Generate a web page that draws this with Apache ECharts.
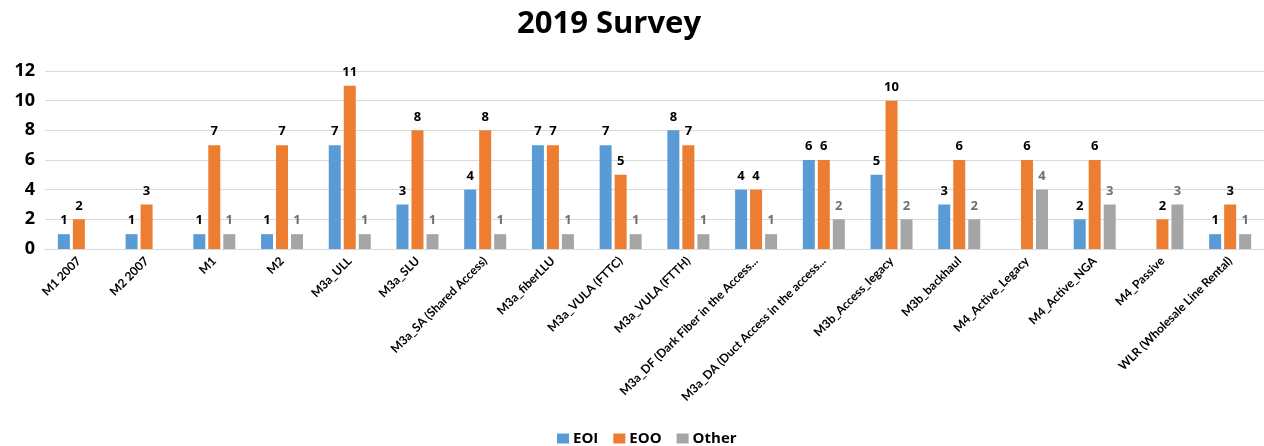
<!DOCTYPE html>
<html>
<head>
<meta charset="utf-8">
<script src="https://cdn.jsdelivr.net/npm/echarts@6/dist/echarts.min.js"></script>
<style>
  html, body { margin: 0; padding: 0; background: #fff; }
  #chart { width: 1264px; height: 446px; }
</style>
</head>
<body>
<div id="chart"></div>
<script>
// Survey categories (x axis)
const categories = [
  'M1 2007', 'M2 2007', 'M1', 'M2', 'M3a_ULL', 'M3a_SLU',
  'M3a_SA (Shared Access)', 'M3a_fiberLLU', 'M3a_VULA (FTTC)', 'M3a_VULA (FTTH)',
  'M3a_DF (Dark Fiber in the Access...', 'M3a_DA (Duct Access in the access...',
  'M3b_Access_legacy', 'M3b_backhaul', 'M4_Active_Legacy', 'M4_Active_NGA',
  'M4_Passive', 'WLR (Wholesale Line Rental)'
];

// Number of responses per respondent group (null = no response)
const eoi   = [1, 1, 1, 1, 7, 3, 4, 7, 7, 8, 4, 6, 5, 3, null, 2, null, 1];
const eoo   = [2, 3, 7, 7, 11, 8, 8, 7, 5, 7, 4, 6, 10, 6, 6, 6, 2, 3];
const other = [null, null, 1, 1, 1, 1, 1, 1, 1, 1, 1, 2, 2, 2, 4, 3, 3, 1];

// Y axis scale
const yMin = 0, yMax = 12, yStep = 2;

const FONT = '"Open Sans", "Noto Sans", sans-serif';
const NARROW = 'Lato, "Open Sans", sans-serif';

function barSeries(name, data, color, labelColor) {
  return {
    name: name,
    type: 'bar',
    data: data,
    barWidth: 12,
    barGap: '25%',
    itemStyle: { color: color },
    label: {
      show: true,
      position: 'top',
      distance: 7,
      color: labelColor,
      fontFamily: FONT,
      fontWeight: 'bold',
      fontSize: 13
    }
  };
}

const chart = echarts.init(document.getElementById('chart'), null, { renderer: 'canvas' });
chart.setOption({
  animation: false,
  backgroundColor: '#ffffff',
  title: {
    text: '2019 Survey',
    left: 604,
    textAlign: 'center',
    top: 4,
    textStyle: { fontFamily: FONT, fontWeight: 'bold', fontSize: 31, color: '#000' }
  },
  legend: {
    data: ['EOI', 'EOO', 'Other'],
    top: 431,
    left: 557,
    padding: 0,
    icon: 'rect',
    itemWidth: 12,
    itemHeight: 10,
    itemGap: 15,
    textStyle: { fontFamily: FONT, fontWeight: 'bold', fontSize: 15, color: '#000', padding: [0, 0, 0, -1] }
  },
  grid: { left: 45, right: -4, top: 71, bottom: 197 },
  xAxis: {
    type: 'category',
    data: categories,
    axisLine: { lineStyle: { color: '#d9d9d9', width: 1 } },
    axisTick: { show: false },
    axisLabel: {
      interval: 0,
      rotate: 45,
      margin: 10,
      fontFamily: NARROW,
      fontWeight: 'bold',
      fontSize: 12,
      color: '#000'
    }
  },
  yAxis: {
    type: 'value',
    min: yMin,
    max: yMax,
    interval: yStep,
    axisLine: { show: false },
    axisTick: { show: false },
    splitLine: { lineStyle: { color: '#d9d9d9', width: 1 } },
    axisLabel: {
      margin: 10,
      fontFamily: FONT,
      fontWeight: 'bold',
      fontSize: 18,
      color: '#000'
    }
  },
  series: [
    barSeries('EOI', eoi, '#5b9bd5', '#000'),
    barSeries('EOO', eoo, '#ed7d31', '#000'),
    barSeries('Other', other, '#a5a5a5', '#6f6f6f')
  ]
});
</script>
</body>
</html>
